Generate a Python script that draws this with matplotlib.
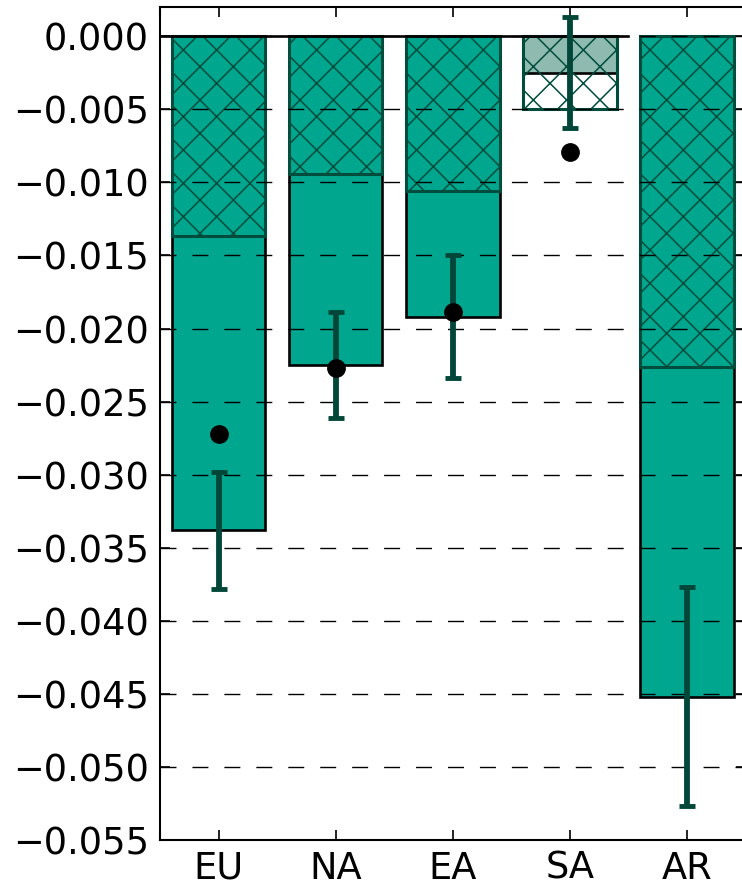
import matplotlib
matplotlib.use('Agg')
import matplotlib.pyplot as plt
import numpy as np

# regions and values
regions = ['EU', 'NA', 'EA', 'SA', 'AR']
total = [-0.0338, -0.0225, -0.0192, -0.0025, -0.0452]
hatched = [-0.0137, -0.0094, -0.0106, -0.0050, -0.0226]
err = [0.0040, 0.0036, 0.0042, 0.0038, 0.0075]
points = [-0.0272, -0.0227, -0.0189, -0.0079, np.nan]
significant = [True, True, True, False, True]

yticks = [0.000, -0.005, -0.010, -0.015, -0.020, -0.025, -0.030,
          -0.035, -0.040, -0.045, -0.050, -0.055]
ytick_labels = ['0.000'] + ['\u2212%.3f' % abs(v) for v in yticks[1:]]

teal = '#00A68E'
pale = '#8FBAB0'
dark = '#004D3D'

plt.rcParams['font.family'] = 'DejaVu Sans'
plt.rcParams['hatch.linewidth'] = 1.1

fig = plt.figure(figsize=(7.42, 8.89), dpi=100)
ax = fig.add_axes([160 / 742, 49 / 889, 585.5 / 742, 833 / 889])

x = np.arange(len(regions))
fill = [teal if s else pale for s in significant]

# full bar, then the hatched part on top of it
ax.bar(x, total, width=0.8, color=fill, edgecolor='black', linewidth=1.9, zorder=1)
ax.bar(x, hatched, width=0.8, facecolor='none', edgecolor=dark, hatch='x',
       linewidth=2.2, zorder=1.1)

ax.plot([-0.5, 3.5], [0, 0], color='black', linewidth=1.9, zorder=2)

ax.errorbar(x, total, yerr=err, fmt='none', ecolor='#00473A', elinewidth=4.2,
            capsize=5.6, capthick=3.5, zorder=3)
ax.plot(x, points, 'o', color='black', markersize=12.5, zorder=4)

ax.set_xlim(-0.5, 4.5)
ax.set_ylim(-0.055, 0.002)
ax.set_xticks(x)
ax.set_xticklabels(regions, fontsize=26.5)
ax.set_yticks(yticks)
ax.set_yticklabels(ytick_labels, fontsize=26.5)
ax.tick_params(direction='in', top=True, right=True, length=7, width=1.2)
ax.tick_params(axis='x', pad=7)
ax.tick_params(axis='y', pad=8)

ax.yaxis.grid(True, color='black', linestyle=(0, (11.5, 11.5)), linewidth=1.0)
ax.set_axisbelow(False)
for s in ax.spines.values():
    s.set_linewidth(1.5)

fig.savefig('out.png', dpi=100)
